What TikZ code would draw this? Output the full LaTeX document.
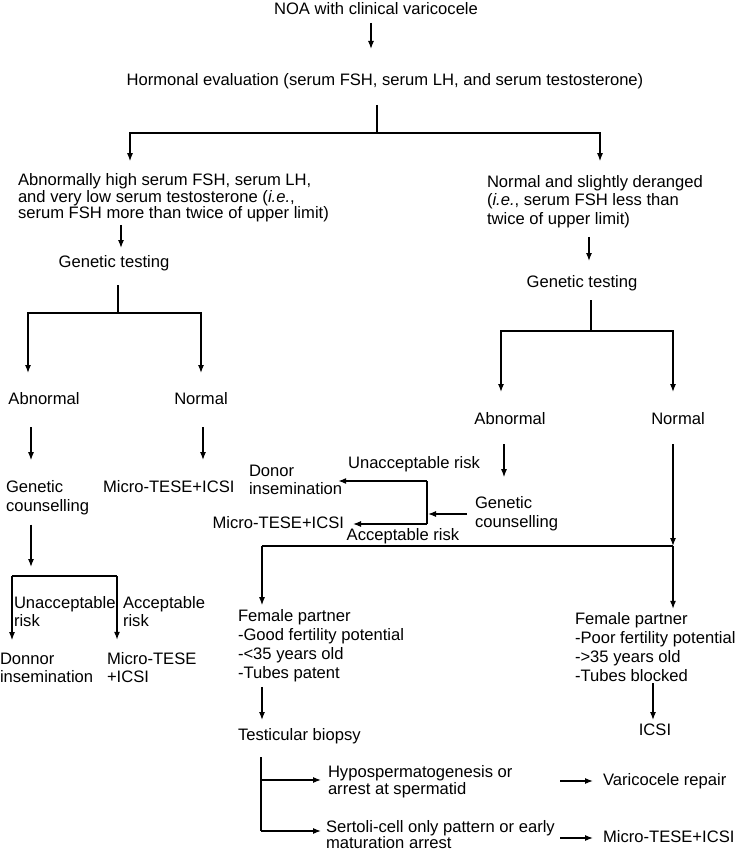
\documentclass[tikz,border=0pt]{standalone}
\usepackage{fontspec}
\setmainfont{Liberation Sans}
\usetikzlibrary{arrows.meta}
\newcommand\fsz{\fontsize{16.6}{19}\selectfont}
\newcommand\fszb{\fontsize{16.6}{18}\selectfont}
\newcommand\fszc{\fontsize{16.6}{16.5}\selectfont}
\begin{document}
\begin{tikzpicture}[x=1pt,y=-1pt,
 txt/.style={inner sep=0pt,outer sep=0pt,font=\fsz,align=left},
 sl/.style={txt,text height=12pt,text depth=4pt},
 ln/.style={line width=1.2pt},
 arr/.style={ln,-{Latex[length=8pt,width=6pt]}}]
\useasboundingbox (0,0) rectangle (741,853);
% nodes
\node[sl,anchor=base] (title) at (376,14.5) {NOA with clinical varicocele};
\node[sl,anchor=base] (horm) at (385,85.5) {Hormonal evaluation (serum FSH, serum LH, and serum testosterone)};
\node[txt,anchor=west,font=\fontsize{16.6}{16.3}\selectfont] (L1) at (18,198) {Abnormally high serum FSH, serum LH,\\and very low serum testosterone (\textit{i.e.},\\serum FSH more than twice of upper limit)};
\node[txt,anchor=west,font=\fontsize{16.6}{18.5}\selectfont] (R1) at (487,201.3) {Normal and slightly deranged\\(\textit{i.e.}, serum FSH less than\\twice of upper limit)};
\node[sl,anchor=base] (genL) at (114,267.5) {Genetic testing};
\node[sl,anchor=base] (genR) at (582,287.5) {Genetic testing};
\node[sl,anchor=base] (abnL) at (44,404.5) {Abnormal};
\node[sl,anchor=base] (normL) at (201,404.5) {Normal};
\node[sl,anchor=base] (abnR) at (510,424.5) {Abnormal};
\node[sl,anchor=base] (normR) at (678,424.5) {Normal};
\node[txt,anchor=west] (gcL) at (6,497.5) {Genetic\\counselling};
\node[sl,anchor=base west] (mtL) at (103,492.5) {Micro-TESE+ICSI};
\node[txt,anchor=west] (gcR) at (475,513.5) {Genetic\\counselling};
\node[sl,anchor=base] (unR) at (414,468.5) {Unacceptable risk};
\node[sl,anchor=base] (acR) at (403,540.5) {Acceptable risk};
\node[txt,anchor=west,font=\fszb] (donR) at (249,480) {Donor\\insemination};
\node[sl,anchor=base east] (mtR) at (344,528.5) {Micro-TESE+ICSI};
\node[txt,anchor=west,font=\fszb] (unL) at (14,612) {Unacceptable\\risk};
\node[txt,anchor=west,font=\fszb] (acL) at (123,612) {Acceptable\\risk};
\node[txt,anchor=west,font=\fszb] (dnL) at (0,668) {Donnor\\insemination};
\node[txt,anchor=west,font=\fszb] (mt2L) at (107,668) {Micro-TESE\\+ICSI};
\node[txt,anchor=west] (femL) at (238,645.5) {Female partner\\-Good fertility potential\\-<35 years old\\-Tubes patent};
\node[txt,anchor=west] (femR) at (575,647.5) {Female partner\\-Poor fertility potential\\->35 years old\\-Tubes blocked};
\node[sl,anchor=base west] (tb) at (238,740.5) {Testicular biopsy};
\node[sl,anchor=base] (icsi) at (655,735.5) {ICSI};
\node[txt,anchor=west,font=\fontsize{16.6}{17}\selectfont] (hyp) at (328,782) {Hypospermatogenesis or\\arrest at spermatid};
\node[txt,anchor=south west,font=\fszc] (ser) at (326,849) {Sertoli-cell only pattern or early\\maturation arrest};
\node[sl,anchor=base west] (var) at (603,785) {Varicocele repair};
\node[sl,anchor=base west] (mt3) at (603,842) {Micro-TESE+ICSI};
% coordinates
\coordinate (cT) at (371,0);
\coordinate (j1) at (377,133);
\coordinate (cL1) at (130,133);
\coordinate (cR1) at (600,133);
\coordinate (cGL) at (121,0);
\coordinate (j2) at (118,313);
\coordinate (cAL) at (28,313);
\coordinate (cNL) at (201,313);
\coordinate (cGC) at (31,0);
\coordinate (cMT) at (203,0);
\coordinate (bJ) at (31,567);
\coordinate (bL) at (12,576);
\coordinate (bR) at (117,576);
\coordinate (cGR) at (589,0);
\coordinate (j3) at (591,331);
\coordinate (cAR) at (501,331);
\coordinate (cNR) at (673,331);
\coordinate (cAB) at (504,0);
\coordinate (kT) at (427,481);
\coordinate (kM) at (427,514);
\coordinate (kB) at (427,524);
\coordinate (j4) at (673,546);
\coordinate (j5) at (262,546);
\coordinate (cF) at (653,0);
\coordinate (t0) at (261,0);
\coordinate (t1) at (261,780);
\coordinate (t2) at (261,831);
\coordinate (v0) at (560,0);
% connectors
\draw[arr,shorten <=4.5pt,shorten >=24.5pt] (cT |- title.south) -- (cT |- horm.north);
\draw[ln,shorten <=15.5pt] (j1 |- horm.south) -- (j1);
\draw[arr,shorten >=12.8pt] (j1) -- (cL1) -- (cL1 |- L1.north);
\draw[arr,shorten >=13.9pt] (j1) -- (cR1) -- (cR1 |- R1.north);
\draw[arr,shorten <=2.8pt,shorten >=7.5pt] (cGL |- L1.south) -- (cGL |- genL.north);
\draw[ln,shorten <=13.5pt] (j2 |- genL.south) -- (j2);
\draw[arr,shorten >=19.5pt] (j2) -- (cAL) -- (cAL |- abnL.north);
\draw[arr,shorten >=19.5pt] (j2) -- (cNL) -- (cNL |- normL.north);
\draw[arr,shorten <=18.5pt,shorten >=20.1pt] (cGC |- abnL.south) -- (cGC |- gcL.north);
\draw[arr,shorten <=18.5pt,shorten >=20.5pt] (cMT |- normL.south) -- (cMT |- mtL.north);
\draw[arr,shorten <=10pt] (cGC |- gcL.south) -- (bJ);
\draw[ln] (bL) -- (bR);
\draw[arr,shorten >=13.1pt] (bL) -- (bL |- dnL.north);
\draw[arr,shorten >=13.1pt] (bR) -- (bR |- mt2L.north);
\draw[arr,shorten <=9.3pt,shorten >=14.5pt] (cGR |- R1.south) -- (cGR |- genR.north);
\draw[ln,shorten <=8.5pt] (j3 |- genR.south) -- (j3);
\draw[arr,shorten >=20.5pt] (j3) -- (cAR) -- (cAR |- abnR.north);
\draw[arr,shorten >=20.5pt] (j3) -- (cNR) -- (cNR |- normR.north);
\draw[arr,shorten <=15.5pt,shorten >=19.1pt] (cAB |- abnR.south) -- (cAB |- gcR.north);
\draw[arr,shorten <=8pt,shorten >=1pt] (gcR.west |- kM) -- (kM);
\draw[ln] (kT) -- (kB);
\draw[arr,shorten >=-4pt] (kT) -- (kT -| donR.east);
\draw[arr,shorten >=9pt] (kB) -- (kB -| mtR.east);
\draw[arr,shorten <=15.5pt] (cNR |- normR.south) -- (j4);
\draw[arr,shorten >=4.1pt] (j4) -- (j4 |- femR.north);
\draw[ln] (j4) -- (j5);
\draw[arr,shorten >=4.1pt] (j5) -- (j5 |- femL.north);
\draw[arr,shorten <=5.1pt,shorten >=8.5pt] (j5 |- femL.south) -- (j5 |- tb.north);
\draw[arr,shorten <=1.1pt,shorten >=3.5pt] (cF |- femR.south) -- (cF |- icsi.north);
\draw[ln,shorten <=12.5pt] (t0 |- tb.south) -- (t2);
\draw[arr,shorten >=7pt] (t1) -- (t1 -| hyp.west);
\draw[arr,shorten >=5pt] (t2) -- (t2 -| ser.west);
\draw[arr,shorten >=10pt] (v0 |- var.west) -- (var.west);
\draw[arr,shorten >=10pt] (v0 |- mt3.west) -- (mt3.west);
\end{tikzpicture}
\end{document}
